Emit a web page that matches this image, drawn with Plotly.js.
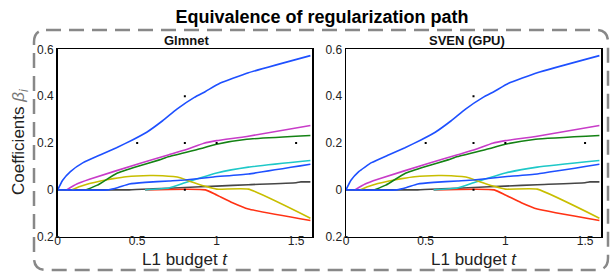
<!DOCTYPE html>
<html><head><meta charset="utf-8">
<script src="https://cdn.plot.ly/plotly-3.0.1.min.js"></script>
<style>html,body{margin:0;padding:0;background:#fff}</style>
</head><body><div id="chart" style="width:610px;height:274px"></div>
<script>
// L1 budget values (t) and coefficient values per path
const grayT = [0, 0.45, 0.6, 0.8, 1.0, 1.2, 1.5, 1.53, 1.59];
const grayB = [0, 0, 0.004, 0.01, 0.016, 0.022, 0.03, 0.034, 0.034];
const redT = [0.55, 0.93, 1.0, 1.1, 1.2, 1.59];
const redB = [0, 0, -0.022, -0.055, -0.082, -0.131];
const cyanT = [0.55, 0.7, 0.8, 0.9, 1.0, 1.2, 1.59];
const cyanB = [0, 0.008, 0.03, 0.052, 0.072, 0.097, 0.125];
const yellowT = [0.09, 0.14, 0.2, 0.27, 0.35, 0.43, 0.58, 0.66, 0.77, 0.83, 0.93, 1.0, 1.2, 1.59];
const yellowB = [0, 0.014, 0.027, 0.038, 0.048, 0.056, 0.061, 0.06, 0.052, 0.037, 0.015, 0.003, 0.003, -0.121];
const greenT = [0.18, 0.25, 0.37, 0.5, 0.64, 0.7, 0.91, 1.0, 1.19, 1.59];
const greenB = [0, 0.02, 0.07, 0.1, 0.128, 0.142, 0.178, 0.195, 0.216, 0.232];
const magentaT = [0.056, 0.12, 0.2, 0.52, 0.7, 0.81, 0.92, 1.0, 1.19, 1.59];
const magentaB = [0, 0.025, 0.045, 0.114, 0.15, 0.172, 0.199, 0.21, 0.228, 0.275];
const blue2T = [0, 0.32, 0.38, 0.45, 0.55, 0.7, 0.8, 0.98, 1.2, 1.59];
const blue2B = [0, 0, 0.01, 0.025, 0.032, 0.038, 0.042, 0.055, 0.068, 0.109];
const blue1T = [0, 0.03, 0.08, 0.16, 0.27, 0.37, 0.47, 0.56, 0.66, 0.75, 0.86, 0.93, 1.02, 1.2, 1.59];
const blue1B = [0, 0.04, 0.078, 0.116, 0.15, 0.18, 0.213, 0.246, 0.295, 0.345, 0.395, 0.42, 0.455, 0.5, 0.573];
// stray marks in the original figure
const dotT = [0.5, 0.8, 1.0, 1.5, 0.8, 0.8];
const dotB = [0.2, 0.2, 0.2, 0.2, 0.4, 0];

const xTicks = [0, 0.5, 1, 1.5];
const xTickText = ['0', '0.5', '1', '1.5'];
const yTicks = [-0.2, 0, 0.2, 0.4, 0.6];
const yTickText = ['0.2', '0', '0.2', '0.4', '0.6'];
const panelTitles = ['Glmnet', 'SVEN (GPU)'];

const series = [
  {t: grayT, b: grayB, c: 'rgb(70,70,70)'},
  {t: redT, b: redB, c: 'rgb(255,50,20)'},
  {t: cyanT, b: cyanB, c: 'rgb(30,200,200)'},
  {t: yellowT, b: yellowB, c: 'rgb(200,190,0)'},
  {t: greenT, b: greenB, c: 'rgb(20,130,20)'},
  {t: magentaT, b: magentaB, c: 'rgb(200,60,200)'},
  {t: blue2T, b: blue2B, c: 'rgb(30,80,255)'},
  {t: blue1T, b: blue1B, c: 'rgb(30,80,255)'}
];

const W = 610, H = 274;
const px = v => v / W, py = v => 1 - v / H;
const traces = [];
['x', 'x2'].forEach((xa, i) => {
  const ya = i === 0 ? 'y' : 'y2';
  series.forEach(s => traces.push({
    x: s.t, y: s.b, xaxis: xa, yaxis: ya, mode: 'lines', type: 'scatter',
    line: {color: s.c, width: 1.6, shape: 'spline', smoothing: 0.4}, hoverinfo: 'skip', showlegend: false
  }));
  traces.push({x: dotT, y: dotB, xaxis: xa, yaxis: ya, mode: 'markers', type: 'scatter',
    marker: {color: '#000', size: 2, symbol: 'square'}, showlegend: false, hoverinfo: 'skip'});
});

const font = 'Liberation Sans, Arial, Helvetica, sans-serif';
function xax(dom) {
  return {domain: dom, range: [0, 1.6], tickvals: xTicks, ticktext: xTickText, ticks: '',
    showline: true, mirror: true, linecolor: '#000', linewidth: 1.5, showgrid: false, zeroline: false,
    ticklabelstandoff: -8,
    tickfont: {size: 12, color: '#222', family: font}, fixedrange: true};
}
function yax(dom, anchor) {
  return {domain: dom, range: [-0.2, 0.6], tickvals: yTicks, ticktext: yTickText, ticks: '',
    showline: true, mirror: true, linecolor: '#000', linewidth: 1.5, showgrid: false, zeroline: false,
    tickfont: {size: 12, color: '#222', family: font}, anchor: anchor, fixedrange: true};
}
const yDom = [py(236.7), py(49.3)];
const r = 12, L = 34, T = 30, R = 608, B = 270;
const borderPath = `M ${px(L+r)} ${py(T)} L ${px(R-r)} ${py(T)} Q ${px(R)} ${py(T)} ${px(R)} ${py(T+r)} ` +
  `L ${px(R)} ${py(B-r)} Q ${px(R)} ${py(B)} ${px(R-r)} ${py(B)} L ${px(L+r)} ${py(B)} ` +
  `Q ${px(L)} ${py(B)} ${px(L)} ${py(B-r)} L ${px(L)} ${py(T+r)} Q ${px(L)} ${py(T)} ${px(L+r)} ${py(T)} Z`;

const layout = {
  width: W, height: H,
  margin: {l: 0, r: 0, t: 0, b: 0, autoexpand: false},
  paper_bgcolor: '#fff', plot_bgcolor: '#fff',
  font: {family: font, color: '#222'},
  title: {text: '<b>Equivalence of regularization path</b>', x: px(322), xanchor: 'center',
    y: py(16.5), yanchor: 'middle', font: {size: 18, color: '#000', family: font}},
  xaxis: xax([px(57.7), px(312)]), yaxis: yax(yDom, 'x'),
  xaxis2: xax([px(346), px(601)]), yaxis2: yax(yDom, 'x2'),
  shapes: [{type: 'path', xref: 'paper', yref: 'paper', path: borderPath,
    line: {color: '#888', width: 2.5, dash: '15px,8px'}}],
  annotations: [
    {text: '<b>' + panelTitles[0] + '</b>', x: px(186), y: py(40.7), xref: 'paper', yref: 'paper',
      showarrow: false, xanchor: 'center', yanchor: 'middle', font: {size: 13, color: '#111'}},
    {text: '<b>' + panelTitles[1] + '</b>', x: px(467), y: py(40.7), xref: 'paper', yref: 'paper',
      showarrow: false, xanchor: 'center', yanchor: 'middle', font: {size: 13, color: '#111'}},
    {text: 'L1 budget <i>t</i>', x: px(185), y: py(259), xref: 'paper', yref: 'paper',
      showarrow: false, xanchor: 'center', yanchor: 'middle', font: {size: 17, color: '#222'}},
    {text: 'L1 budget <i>t</i>', x: px(474), y: py(259), xref: 'paper', yref: 'paper',
      showarrow: false, xanchor: 'center', yanchor: 'middle', font: {size: 17, color: '#222'}},
    {text: 'Coefficients <span style="color:#777"><i>β<sub>i</sub></i></span>', x: px(20), y: py(142), xref: 'paper', yref: 'paper',
      showarrow: false, xanchor: 'center', yanchor: 'middle', textangle: -90, font: {size: 17, color: '#222'}}
  ]
};
Plotly.newPlot('chart', traces, layout, {displayModeBar: false, staticPlot: true});
</script></body></html>
